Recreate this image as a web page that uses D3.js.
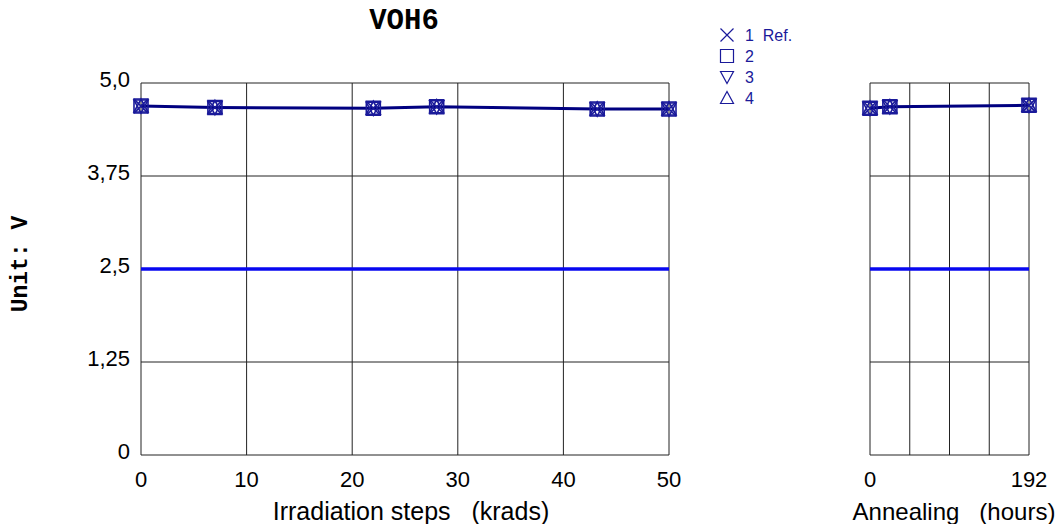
<!DOCTYPE html>
<html lang="en">
<head>
  <meta charset="UTF-8" />
  <title>VOH6</title>
  <script src="https://d3js.org/d3.v7.min.js"></script>
  <style>
    body { margin: 0; background: #fff; }
    svg { display: block; }
    text { font-family: "Liberation Sans", Arial, sans-serif; }
  </style>
</head>
<body>
  <svg width="1061" height="524"></svg>
  <script>
    // irradiation steps (krads) and measured values
    const irrSteps = [0, 7, 22, 28, 43.2, 50];
    const irrValues = [4.69, 4.67, 4.66, 4.68, 4.65, 4.65];
    // annealing (hours)
    const annSteps = [0, 24, 192];
    const annValues = [4.66, 4.68, 4.70];
    const refLevel = 2.5;

    const yTicks = [0, 1.25, 2.5, 3.75, 5.0];
    const yTickLabels = ["0", "1,25", "2,5", "3,75", "5,0"];
    const irrTicks = [0, 10, 20, 30, 40, 50];
    const annGrid = [0, 48, 96, 144, 192];
    const annTickLabels = [0, 192];
    const legendItems = ["1  Ref.", "2", "3", "4"];
    const legendSymbols = ["x", "square", "down", "up"];

    const svg = d3.select("svg");
    const navy = "#000080";
    const markColor = "#1a1a9a";

    const y = d3.scaleLinear().domain([0, 5]).range([455, 83]);
    const xIrr = d3.scaleLinear().domain([0, 50]).range([141, 669]);
    const xAnn = d3.scaleLinear().domain([0, 192]).range([870, 1029]);

    function symbolPath(sym, size) {
      const h = size / 2;
      if (sym === "down") return `M${-h},${-h + 1}L${h},${-h + 1}L0,${h}Z`;
      if (sym === "up") return `M${-h},${h - 1}L${h},${h - 1}L0,${-h}Z`;
      if (sym === "square") return `M${-h},${-h}H${h}V${h}H${-h}Z`;
      return `M${-h},${-h}L${h},${h}M${-h},${h}L${h},${-h}`;
    }

    function drawPanel(x, gridVals, steps, values) {
      const g = svg.append("g");
      // vertical grid
      g.selectAll("line.vg").data(gridVals).enter().append("line")
        .attr("x1", d => x(d)).attr("x2", d => x(d))
        .attr("y1", y(0)).attr("y2", y(5))
        .attr("stroke", "#222").attr("stroke-width", 1);
      // horizontal grid
      g.selectAll("line.hg").data(yTicks).enter().append("line")
        .attr("x1", x.range()[0]).attr("x2", x.range()[1])
        .attr("y1", d => y(d)).attr("y2", d => y(d))
        .attr("stroke", "#222").attr("stroke-width", 1);
      // reference line
      g.append("line")
        .attr("x1", x.range()[0]).attr("x2", x.range()[1])
        .attr("y1", y(refLevel)).attr("y2", y(refLevel))
        .attr("stroke", "#0808f0").attr("stroke-width", 3.5);
      // data line
      const line = d3.line().x(d => x(d[0])).y(d => y(d[1]));
      const pts = steps.map((s, i) => [s, values[i]]);
      g.append("path").datum(pts)
        .attr("d", line).attr("fill", "none")
        .attr("stroke", navy).attr("stroke-width", 3);
      // markers (4 series overlap)
      legendSymbols.forEach(sym => {
        g.selectAll(null).data(pts).enter().append("path")
          .attr("d", symbolPath(sym, 14))
          .attr("transform", d => `translate(${x(d[0])},${y(d[1])})`)
          .attr("fill", "none").attr("stroke", markColor).attr("stroke-width", 1.6);
      });
    }

    drawPanel(xIrr, irrTicks, irrSteps, irrValues);
    drawPanel(xAnn, annGrid, annSteps, annValues);

    // y tick labels
    svg.selectAll("text.yt").data(yTicks).enter().append("text")
      .attr("x", 130).attr("y", d => y(d) + 4)
      .attr("text-anchor", "end").attr("font-size", 22)
      .text((d, i) => yTickLabels[i]);

    // x tick labels
    svg.selectAll("text.xt").data(irrTicks).enter().append("text")
      .attr("x", d => xIrr(d)).attr("y", 487)
      .attr("text-anchor", "middle").attr("font-size", 22)
      .text(d => d);
    svg.selectAll("text.at").data(annTickLabels).enter().append("text")
      .attr("x", d => xAnn(d)).attr("y", 487)
      .attr("text-anchor", "middle").attr("font-size", 22)
      .text(d => d);

    // axis titles
    svg.append("text").attr("x", 411).attr("y", 520)
      .attr("text-anchor", "middle").attr("font-size", 25)
      .attr("xml:space", "preserve")
      .text("Irradiation steps   (krads)");
    svg.append("text").attr("x", 954).attr("y", 520)
      .attr("text-anchor", "middle").attr("font-size", 24)
      .attr("xml:space", "preserve")
      .text("Annealing   (hours)");

    // title and y label
    svg.append("text").attr("x", 404).attr("y", 29)
      .attr("text-anchor", "middle").attr("font-size", 29)
      .attr("font-weight", "bold")
      .style("font-family", "'Courier New', 'Liberation Mono', monospace")
      .text("VOH6");
    svg.append("text")
      .attr("transform", "translate(27,264) rotate(-90)")
      .attr("text-anchor", "middle").attr("font-size", 23)
      .attr("font-weight", "bold")
      .style("font-family", "'Courier New', 'Liberation Mono', monospace")
      .text("Unit: V");

    // legend
    const leg = svg.append("g").attr("transform", "translate(727,35)");
    legendItems.forEach((t, i) => {
      leg.append("path")
        .attr("d", symbolPath(legendSymbols[i], 13))
        .attr("transform", `translate(0,${i * 21})`)
        .attr("fill", "none").attr("stroke", markColor).attr("stroke-width", 1.2);
      leg.append("text")
        .attr("x", 18).attr("y", i * 21 + 6)
        .attr("font-size", 16).attr("fill", markColor)
        .attr("xml:space", "preserve")
        .text(t);
    });
  </script>
</body>
</html>
